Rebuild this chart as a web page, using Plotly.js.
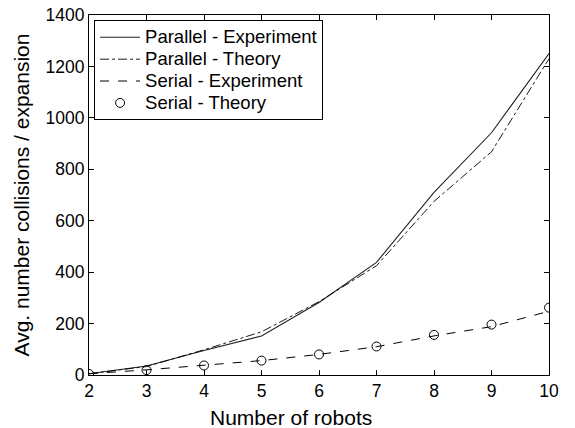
<!DOCTYPE html>
<html>
<head>
<meta charset="utf-8">
<script src="https://cdn.plot.ly/plotly-3.0.1.min.js"></script>
<style>html,body{margin:0;padding:0;background:#fff;}#chart{width:575px;height:428px;}</style>
</head>
<body>
<div id="chart"></div>
<script>
const robots = [2, 3, 4, 5, 6, 7, 8, 9, 10];
const parallelExperiment = [5, 35, 95, 152, 282, 438, 710, 942, 1250];
const parallelTheory = [5, 33, 98, 168, 285, 425, 675, 868, 1230];
const serialExperiment = [5, 20, 38, 56, 80, 110, 152, 188, 248];
const serialTheory = [4, 19, 37, 56, 80, 111, 156, 196, 262];
const seriesNames = ['Parallel - Experiment', 'Parallel - Theory', 'Serial - Experiment', 'Serial - Theory'];
const yTicks = [0, 200, 400, 600, 800, 1000, 1200, 1400];
const xTitle = 'Number of robots';
const yTitle = 'Avg. number collisions / expansion';

const font = {family: 'Liberation Sans, Arial, Helvetica, sans-serif', color: '#000'};
const legendName = n => '<span style="font-size:18.5px">' + n + '</span>';

const traces = [
  {x: robots, y: parallelExperiment, name: legendName(seriesNames[0]), mode: 'lines',
   line: {color: '#222', width: 1.1}},
  {x: robots, y: parallelTheory, name: legendName(seriesNames[1]), mode: 'lines',
   line: {color: '#000', width: 0.9, dash: 'dashdot'}},
  {x: robots, y: serialExperiment, name: legendName(seriesNames[2]), mode: 'lines',
   line: {color: '#000', width: 1, dash: 'dash'}},
  {x: robots, y: serialTheory, name: legendName(seriesNames[3]), mode: 'markers',
   marker: {symbol: 'circle-open', size: 9, color: '#000', line: {width: 1, color: '#000'}}}
];

const axisCommon = {
  showline: true, linecolor: '#000', linewidth: 1, mirror: 'ticks',
  ticks: 'inside', ticklen: 5, tickcolor: '#000', showgrid: false, zeroline: false,
  tickfont: Object.assign({size: 17.5}, font)
};

const layout = {
  width: 575, height: 428,
  margin: {l: 89, r: 26, t: 15, b: 53},
  paper_bgcolor: '#fff', plot_bgcolor: '#fff',
  showlegend: true,
  legend: {
    x: 0.011, y: 0.985, xanchor: 'left', yanchor: 'top',
    bgcolor: '#fff', bordercolor: '#000', borderwidth: 1, itemwidth: 40,
    font: Object.assign({size: 14.5}, font), tracegroupgap: 0
  },
  xaxis: Object.assign({}, axisCommon, {
    range: [2, 10], tickvals: robots, ticktext: robots.map(String)
  }),
  yaxis: Object.assign({}, axisCommon, {
    range: [0, 1400], tickvals: yTicks, ticktext: yTicks.map(String),
    title: {text: yTitle, font: Object.assign({size: 21}, font), standoff: 10}
  }),
  annotations: [{
    text: xTitle, xref: 'paper', yref: 'paper', x: 0.439, y: -0.08,
    xanchor: 'center', yanchor: 'top', showarrow: false,
    font: Object.assign({size: 21}, font)
  }]
};

Plotly.newPlot('chart', traces, layout, {displayModeBar: false, staticPlot: true});
</script>
</body>
</html>
